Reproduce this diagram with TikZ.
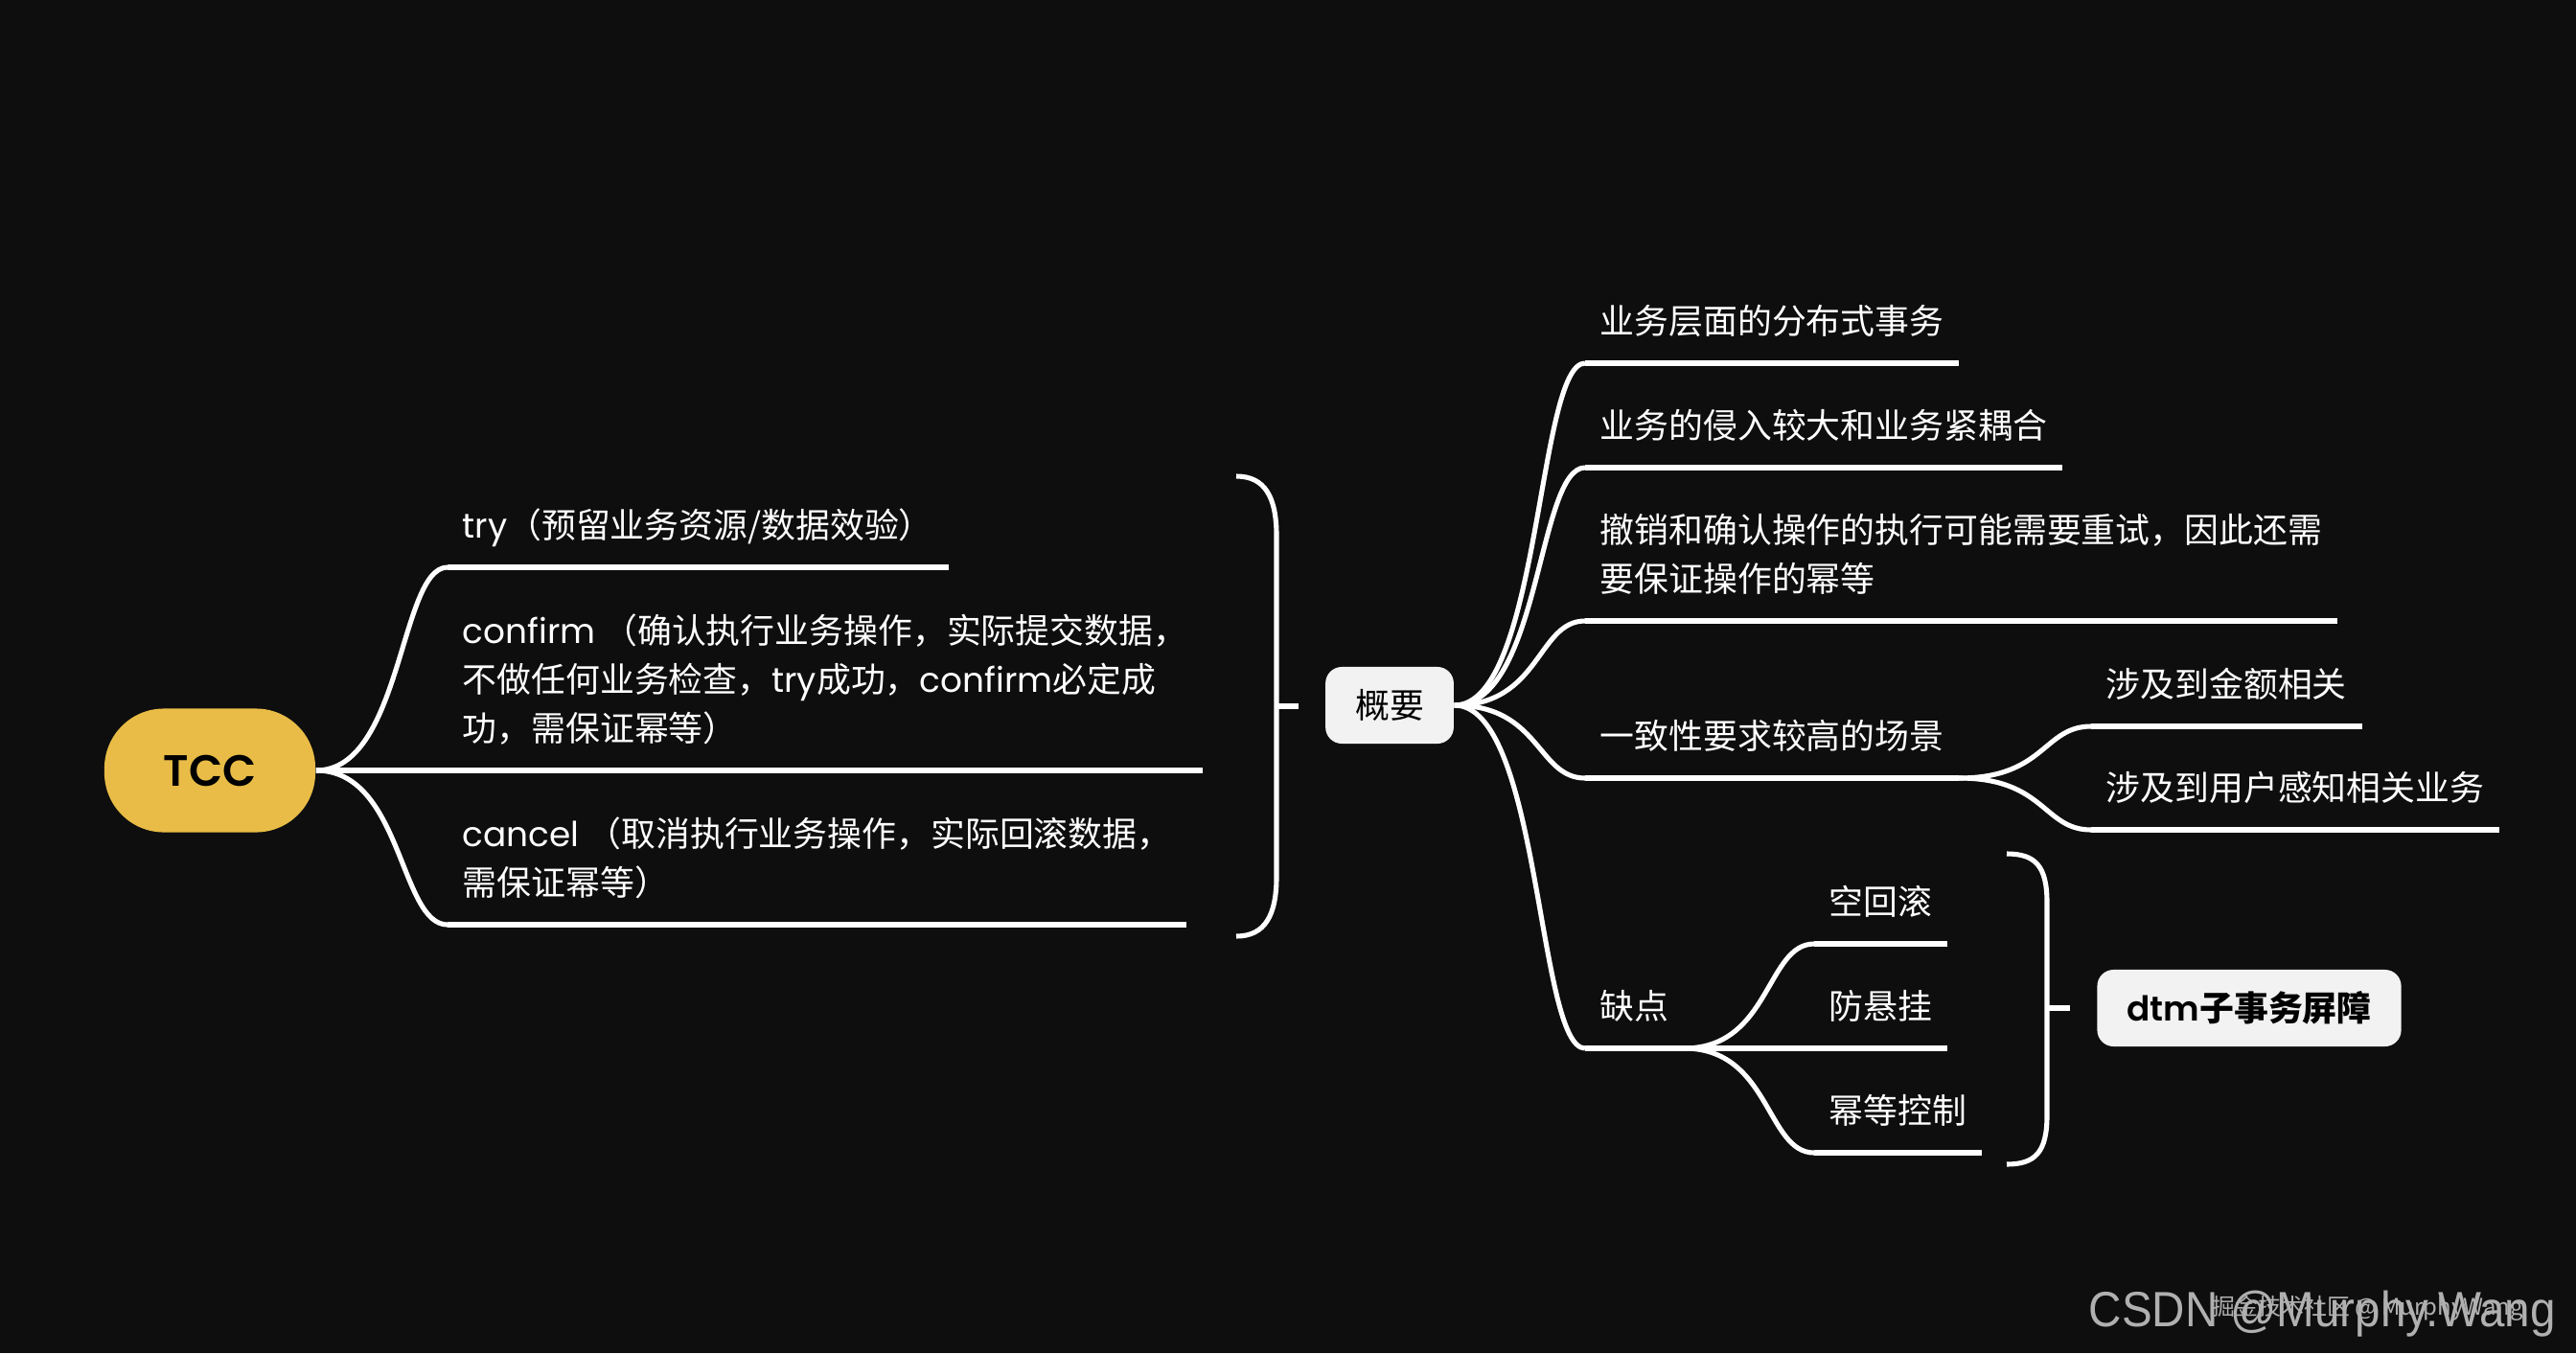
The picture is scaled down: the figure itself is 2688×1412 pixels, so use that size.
\documentclass[tikz,border=0pt]{standalone}
\usepackage{fontspec}
\setmainfont{Noto Sans CJK SC}
\newfontfamily\latinfont[BoldFont={Poppins SemiBold}]{Poppins}
\newfontfamily\markfont[FakeStretch=0.92]{Liberation Sans}
\usetikzlibrary{calc}
\definecolor{canvas}{HTML}{0E0E0E}
\definecolor{rootyellow}{HTML}{E8BC46}
\definecolor{topicgray}{HTML}{F2F2F2}
\definecolor{markgray}{HTML}{B0B0B0}
\newcommand{\latn}[1]{{\latinfont #1}}

\begin{document}
\begin{tikzpicture}[
    x=0.01cm, y=-0.01cm,
    font=\fontsize{10.2pt}{14.5pt}\selectfont,
    root/.style={
      fill=rootyellow, text=black, rounded corners=0.62cm,
      minimum width=2.2cm, minimum height=1.29cm,
      font=\fontsize{13pt}{15pt}\selectfont\latinfont\bfseries
    },
    topic/.style={
      fill=topicgray, text=black, rounded corners=0.17cm,
      minimum height=0.8cm, inner xsep=0.31cm
    },
    topicbold/.style={topic, font=\fontsize{10.2pt}{14.5pt}\selectfont\bfseries},
    leaf/.style={
      anchor=south west, align=left, text=white,
      inner xsep=0.15cm, inner ysep=4pt,
      execute at end node=\strut
    },
    underline/.style={draw=white, line width=1.45pt},
    link/.style={draw=white, line width=1.45pt,
      to path={.. controls +(90,0) and +(-50,0) .. (\tikztotarget)}},
    brace/.style={draw=white, line width=1.45pt},
    wmark/.style={anchor=base west, inner sep=0pt, text=markgray}
  ]
    % Canvas
    \fill[canvas] (0,0) rectangle (2688,1412);
    \useasboundingbox (0,0) rectangle (2688,1412);

    % Root and its three phases
    \node[root] at (219,804) (tcc) {TCC};
    \node[leaf] at (467,592) (try) {\latn{try}（预留业务资源/数据效验）};
    \node[leaf] at (467,804) (confirm)
      {\latn{confirm} （确认执行业务操作，实际提交数据，\\不做任何业务检查，\latn{try}成功，\latn{confirm}必定成\\功，需保证幂等）};
    \node[leaf] at (467,965) (cancel)
      {\latn{cancel} （取消执行业务操作，实际回滚数据，\\需保证幂等）};
    \foreach \n in {try,confirm,cancel}{
      \draw[link] (tcc.east) to (\n.south west);
      \draw[underline] (\n.south west) -- (\n.south east);
    }

    % Summary brace over the phases
    \coordinate (tccBrTop) at (1290,497);
    \coordinate (tccBrMid) at (1332,737);
    \coordinate (tccBrBot) at (1290,977);
    \coordinate (tccBrTip) at (1355,737);
    \draw[brace] (tccBrTop) .. controls +(30,0) and +(0,-40) .. ($(tccBrMid)+(0,-178)$)
      -- ($(tccBrMid)+(0,178)$) .. controls +(0,40) and +(30,0) .. (tccBrBot);
    \draw[brace] (tccBrMid) -- (tccBrTip);

    % Overview and its points
    \node[topic] at (1450,736) (overview) {概要};
    \node[leaf] at (1654,379) (layer) {业务层面的分布式事务};
    \node[leaf] at (1654,488) (intrude) {业务的侵入较大和业务紧耦合};
    \node[leaf] at (1654,648) (retry)
      {撤销和确认操作的执行可能需要重试，因此还需\\要保证操作的幂等};
    \node[leaf] at (1654,812) (consist) {一致性要求较高的场景};
    \node[leaf] at (1654,1094) (flaw) {缺点};
    \foreach \n in {layer,intrude,retry,consist,flaw}{
      \draw[link] (overview.east) to (\n.south west);
      \draw[underline] (\n.south west) -- (\n.south east);
    }

    % Scenarios
    \node[leaf] at (2182,758) (money) {涉及到金额相关};
    \node[leaf] at (2182,866) (userbiz) {涉及到用户感知相关业务};
    \foreach \n in {money,userbiz}{
      \draw[link] (consist.south east) to (\n.south west);
      \draw[underline] (\n.south west) -- (\n.south east);
    }

    % Drawbacks
    \node[leaf] at (1893,985) (emptyrb) {空回滚};
    \node[leaf] at (1893,1094) (hang) {防悬挂};
    \node[leaf] at (1893,1203) (idem) {幂等控制};
    \foreach \n in {emptyrb,hang,idem}{
      \draw[link] (flaw.south east) to (\n.south west);
      \draw[underline] (\n.south west) -- (\n.south east);
    }

    % Summary brace over the drawbacks
    \coordinate (flawBrTop) at (2094,891);
    \coordinate (flawBrMid) at (2136,1052);
    \coordinate (flawBrBot) at (2094,1215);
    \coordinate (flawBrTip) at (2160,1052);
    \draw[brace] (flawBrTop) .. controls +(30,0) and +(0,-38) .. ($(flawBrMid)+(0,-110)$)
      -- ($(flawBrMid)+(0,112)$) .. controls +(0,38) and +(30,0) .. (flawBrBot);
    \draw[brace] (flawBrMid) -- (flawBrTip);
    \node[topicbold] at (2347,1052) (barrier) {\latn{dtm}子事务屏障};

    % Watermarks
    \node[wmark, font=\fontsize{14.7pt}{16pt}\markfont] at (2179,1384) (csdnMark)
      {CSDN @Murphy.Wang};
    \node[wmark, font=\fontsize{6.8pt}{8pt}\selectfont] at (2308,1372) (juejinMark)
      {掘金技术社区 @ MurphyWang};
\end{tikzpicture}
\end{document}
